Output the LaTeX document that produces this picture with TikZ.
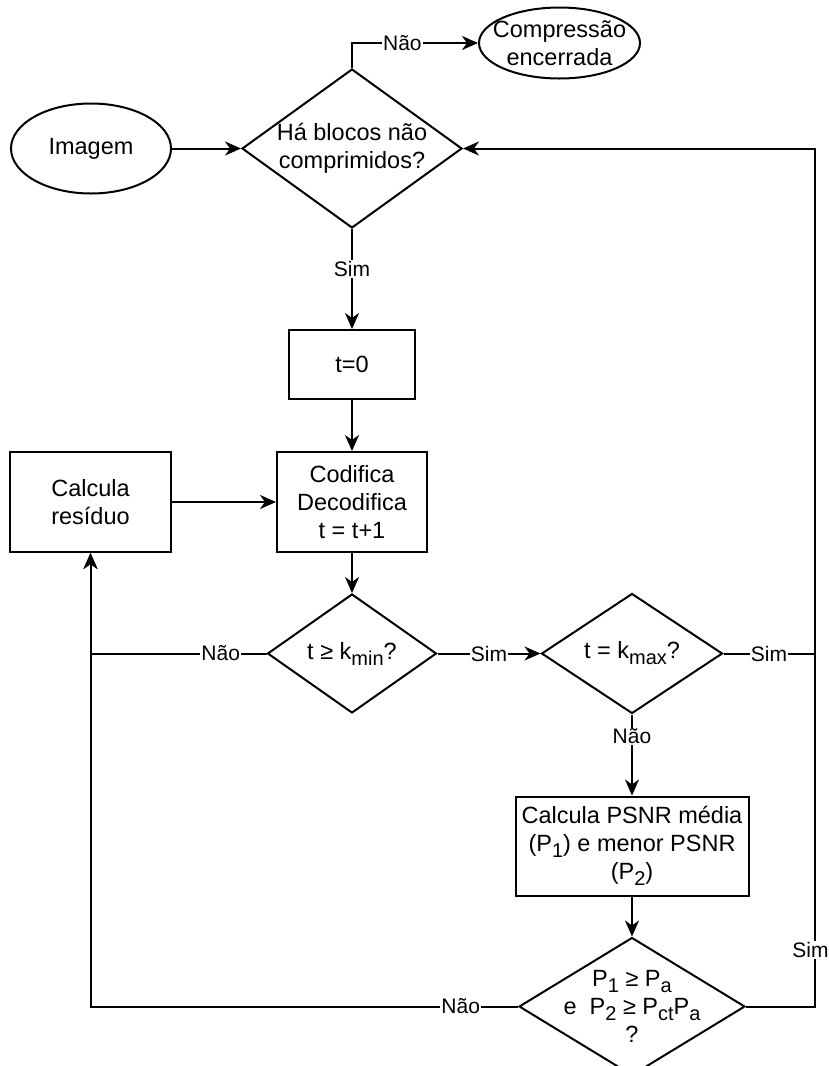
\documentclass[tikz,border=0pt]{standalone}
\usepackage{fontspec}
\setmainfont{Liberation Sans}
\usetikzlibrary{positioning,shapes.geometric,arrows.meta}

\newcommand{\subind}[1]{\raisebox{-3pt}{\fontsize{10}{10}\selectfont #1}}

\tikzset{
    caixa/.style={draw, rectangle, line width=1pt, align=center, inner xsep=2pt},
    terminal/.style={draw, ellipse, line width=1pt, align=center, inner sep=-6pt},
    decisao/.style={draw, diamond, line width=1pt, align=center, inner sep=-5pt},
    seta/.style={line width=1pt, -{Stealth[length=8pt, width=7pt, inset=2.5pt]}},
    linha/.style={line width=1pt},
    rotulo/.style={fill=white, inner sep=0.5pt, font=\fontsize{10.5}{12}\selectfont},
}

\begin{document}
\begin{tikzpicture}[font=\fontsize{11.75}{14}\selectfont]
    \useasboundingbox (0,0) rectangle (414.5pt,-533pt);
    \node [decisao, aspect=1.384, minimum width=110pt, minimum height=79.5pt] (blk) at (176pt,-74.25pt) {Há blocos não\\comprimidos?};
    \node [terminal, minimum width=80pt, minimum height=45pt, left=34.5pt of blk] (img) {Imagem};
    \node [terminal, minimum width=80.5pt, minimum height=35.5pt, right=63pt of blk.north, yshift=12.5pt] (fim) {Compressão\\encerrada};
    \node [caixa, minimum width=63pt, minimum height=34.5pt, below=50pt of blk] (t0) {t=0};
    \node [caixa, minimum width=75pt, minimum height=50pt, below=25.5pt of t0] (cod) {Codifica\\Decodifica\\t = t+1};
    \node [caixa, minimum width=80.5pt, minimum height=50pt, left=52pt of cod] (res) {Calcula\\resíduo};
    \node [decisao, aspect=1.42, minimum width=84.5pt, minimum height=59.5pt, below=20pt of cod] (kmin) {t ≥ k\subind{min}?};
    \node [decisao, aspect=1.51, minimum width=90.5pt, minimum height=60pt, right=51.5pt of kmin] (kmax) {t = k\subind{max}?};
    \node [caixa, minimum width=116.5pt, minimum height=49.5pt, below=40.5pt of kmax] (psnr) {Calcula PSNR média\\(P\subind{1}) e menor PSNR\\(P\subind{2})};
    \node [decisao, aspect=1.64, minimum width=113pt, minimum height=69pt, below=20pt of psnr] (pcond) {P\subind{1} ≥ P\subind{a}\\e~~P\subind{2} ≥ P\subind{ct}P\subind{a}\\?};
    \coordinate [right=45.5pt of kmax.east] (ret);

    \draw [seta] (img) -- (blk);
    \draw [seta] (blk.north) |- node[rotulo, pos=0.7] {Não} (fim.west);
    \draw [seta] (blk.south) -- node[rotulo, pos=0.4] {Sim} (t0.north);
    \draw [seta] (t0) -- (cod);
    \draw [seta] (res) -- (cod);
    \draw [seta] (cod) -- (kmin);
    \draw [seta] (kmin.west) -| node[rotulo, pos=0.13] {Não} (res.south);
    \draw [seta] (kmin) -- node[rotulo] {Sim} (kmax);
    \draw [seta] (kmax.east) -- node[rotulo] {Sim} (ret) |- (blk.east);
    \draw [seta] (kmax) -- node[rotulo, pos=0.27] {Não} (psnr);
    \draw [seta] (psnr) -- (pcond);
    \draw [seta] (pcond.west) -| node[rotulo, pos=0.067] {Não} (res.south);
    \draw [linha] (pcond.east) -| node[rotulo, pos=0.58, xshift=-2pt] {Sim} (ret);
\end{tikzpicture}
\end{document}
